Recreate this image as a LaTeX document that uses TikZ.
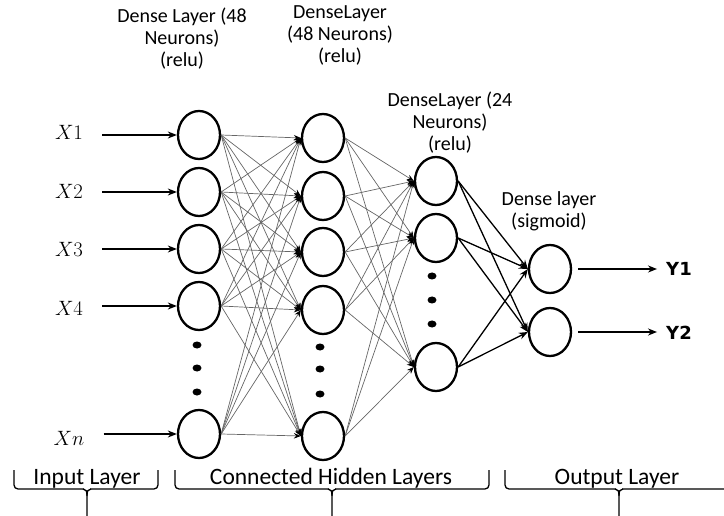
\documentclass[tikz,border=0pt]{standalone}
\usepackage[no-math]{fontspec}
\setmainfont{Carlito}
\newfontfamily\yfont{DejaVu Sans}
\usetikzlibrary{arrows.meta,shapes.geometric}

\begin{document}
\begin{tikzpicture}[x=1pt,y=-1pt,
  neuron/.style={draw, ellipse, line width=2.3pt, minimum width=42pt, minimum height=48pt, inner sep=0pt},
  title/.style={align=center, font=\fontsize{20}{22}\selectfont, inner sep=0pt},
  xlab/.style={inner sep=0pt, font=\fontsize{20.74}{24}\selectfont},
  ylab/.style={inner sep=0pt, font=\fontsize{18}{22}\selectfont\yfont\bfseries},
  grouplab/.style={inner sep=0pt, anchor=base, font=\fontsize{23.5}{27}\selectfont},
  inarrow/.style={line width=1.4pt, -{Stealth[length=9pt,width=7pt]}},
  thinedge/.style={draw=black!60, line width=0.7pt, -{Stealth[length=7pt,width=5.5pt,black]}},
  thickedge/.style={line width=1.3pt, -{Stealth[length=9pt,width=7pt]}},
  bracket/.style={line width=1.3pt, rounded corners=4pt},
  dot/.style={fill=black}
]
\useasboundingbox (0,0) rectangle (724,516);
\clip (0,0) rectangle (724,516);

% layer titles
\node[title] (t1) at (182,39) {Dense Layer (48\\Neurons)\\(relu)};
\node[title] (t2) at (340,35) {DenseLayer\\(48 Neurons)\\(relu)};
\node[title] (t3) at (450,123) {DenseLayer (24\\Neurons)\\(relu)};
\node[title] (t4) at (549,211) {Dense layer\\(sigmoid)};

% first hidden layer
\node[neuron] (a1) at (199,135) {};
\node[neuron] (a2) at (199,192) {};
\node[neuron] (a3) at (199,249) {};
\node[neuron] (a4) at (199,306) {};
\node[neuron] (a5) at (199,434) {};
\foreach \y in {345,368,392} \fill[dot] (197,\y) ellipse (4.5pt and 3.5pt);

% second hidden layer
\node[neuron] (b1) at (323,138) {};
\node[neuron] (b2) at (323,196) {};
\node[neuron] (b3) at (323,252) {};
\node[neuron] (b4) at (323,310) {};
\node[neuron] (b5) at (323,436) {};
\foreach \y in {347,369,394} \fill[dot] (320,\y) ellipse (4.5pt and 3.5pt);

% third hidden layer
\node[neuron] (c1) at (436,181) {};
\node[neuron] (c2) at (436,238) {};
\node[neuron] (c3) at (436,367) {};
\foreach \y in {276,300,324} \fill[dot] (432,\y) ellipse (4.5pt and 3.5pt);

% output layer
\node[neuron] (d1) at (550,269) {};
\node[neuron] (d2) at (550,332) {};

% inputs
\node[xlab] (x1) at (69,132) {$X1$};
\node[xlab] (x2) at (69,191) {$X2$};
\node[xlab] (x3) at (69,249) {$X3$};
\node[xlab] (x4) at (69,308) {$X4$};
\node[xlab] (x5) at (69,438) {$Xn$};
\foreach \i in {1,...,5}
  \draw[inarrow, shorten <=19pt] (a\i.west -| x\i.east) -- (a\i.west);

% outputs
\node[ylab] (y1) at (679,269) {Y1};
\node[ylab] (y2) at (679,333) {Y2};
\draw[inarrow, shorten <=6pt, shorten >=9pt] (d1.east) -- (y1.west |- d1.east);
\draw[inarrow, shorten <=6pt, shorten >=9pt] (d2.east) -- (y2.west |- d2.east);

% dense connections
\foreach \i in {1,...,5}
  \foreach \j in {1,...,5}
    \draw[thinedge] (a\i.east) -- (b\j.west);
\foreach \i in {1,...,5}
  \foreach \j in {1,...,3}
    \draw[thinedge] (b\i.east) -- (c\j.west);
\foreach \i in {1,...,3}
  \foreach \j in {1,2}
    \draw[thickedge] (c\i.east) -- (d\j.west);

% group brackets
\foreach \xa/\xc/\xb in {14/87/158, 175/332/489, 505/619/733} {
  \draw[bracket] (\xa,470) -- (\xa,489) -- (\xc-3,489);
  \draw[bracket] (\xb,470) -- (\xb,489) -- (\xc+3,489);
  \draw[line width=1.3pt] (\xc-4,489) .. controls (\xc-1,489) and (\xc,491) .. (\xc,496) -- (\xc,516);
  \draw[line width=1.3pt] (\xc+4,489) .. controls (\xc+1,489) and (\xc,491) .. (\xc,496);
}
\node[grouplab] (g1) at (87,484) {Input Layer};
\node[grouplab] (g2) at (331,484) {Connected Hidden Layers};
\node[grouplab] (g3) at (617,484) {Output Layer};
\end{tikzpicture}
\end{document}
